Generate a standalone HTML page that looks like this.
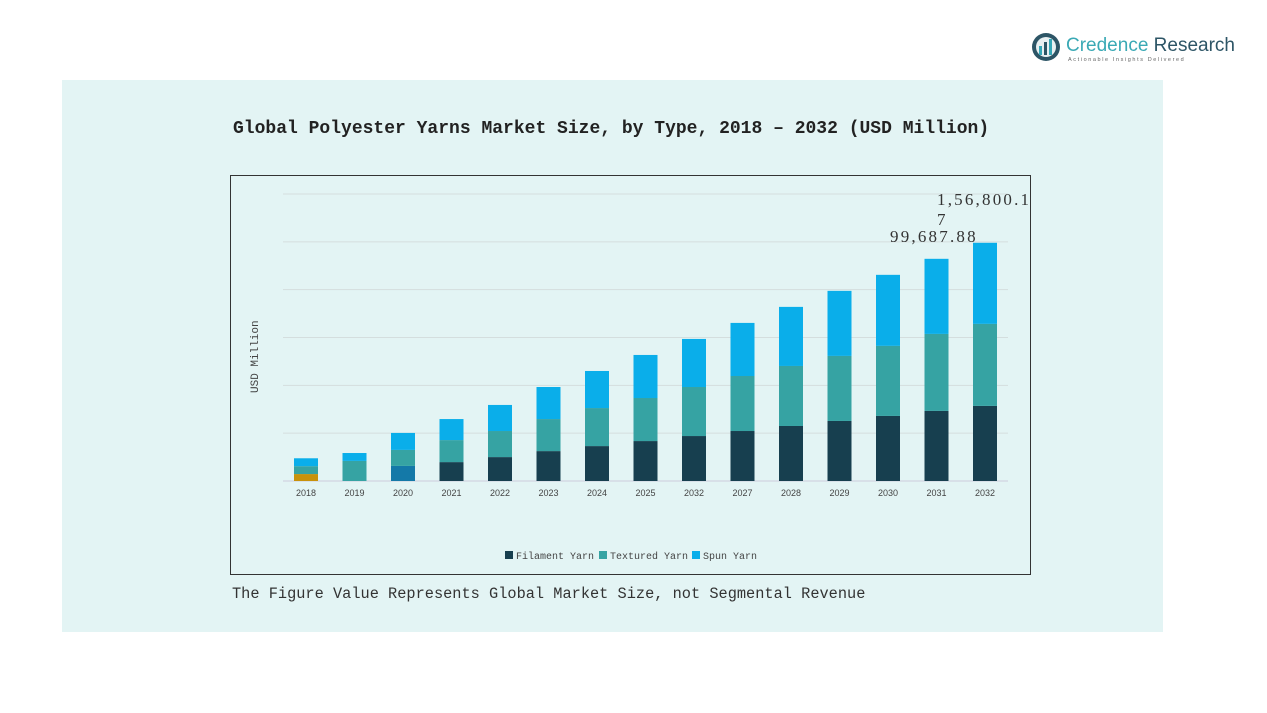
<!DOCTYPE html>
<html><head><meta charset="utf-8"><style>
body{margin:0;width:1267px;height:713px;background:#fff;position:relative;overflow:hidden;font-family:"Liberation Mono","Noto Serif CJK SC",monospace}
#panel{position:absolute;left:62px;top:80px;width:1101px;height:552px;background:#e3f4f4}
#title{position:absolute;left:233px;top:119px;font-size:18px;font-weight:bold;color:#222;white-space:nowrap;font-family:"Liberation Mono","Noto Serif CJK SC",monospace}
#foot{position:absolute;left:232px;top:585px;font-size:15.3px;color:#333;white-space:nowrap}
#logo{position:absolute;left:1030px;top:30px}
</style></head><body>
<div id="panel"></div>
<div id="logo">
<svg width="210" height="36"><circle cx="16" cy="17" r="14" fill="#2d5566"/><circle cx="16" cy="17" r="10" fill="#e8f0f2"/><rect x="9" y="16" width="3" height="9" fill="#35a8b8"/><rect x="14" y="12" width="3" height="13" fill="#2d5566"/><rect x="19" y="9" width="3" height="16" fill="#35a8b8"/>
<text x="36" y="21" font-family="Liberation Sans,sans-serif" font-size="19" fill="#3aa9b5">Credence <tspan fill="#2d5566">Research</tspan></text>
<text x="38" y="31" font-family="Liberation Sans,sans-serif" font-size="5.5" letter-spacing="1.6" fill="#666">Actionable Insights Delivered</text></svg></div>
<div id="title">Global Polyester Yarns Market Size, by Type, 2018 – 2032 (USD Million)</div>
<svg id="chart" width="1267" height="713" style="position:absolute;left:0;top:0"></svg>
<div id="foot">The Figure Value Represents Global Market Size, not Segmental Revenue</div>
<script>
const categories=["2018","2019","2020","2021","2022","2023","2024","2025","2032","2027","2028","2029","2030","2031","2032"];
const filament=[2900,0,6300,7900,10000,12500,14600,16700,18800,20900,23000,25100,27200,29300,31400];
const textured=[3300,8400,6700,9200,10900,13400,15900,18000,20500,23000,25100,27200,29300,32200,34300];
const spun=[3300,3300,7100,8800,10900,13400,15500,18000,20100,22200,24700,27200,29700,31400,33900];
const yTicks=[0,20000,40000,60000,80000,100000,120000];
const annotations=["1,56,800.1","7","99,687.88"];
const svg=document.getElementById('chart');const NS='http://www.w3.org/2000/svg';
function el(t,a){const e=document.createElementNS(NS,t);for(const k in a)e.setAttribute(k,a[k]);svg.appendChild(e);return e;}
const y0=481,yMax=120000,yTop=194;
function y(v){return y0-(v/yMax)*(y0-yTop);}
function x(i){return 306+i*48.5;}
const frame=el('rect',{x:230.5,y:175.5,width:800,height:399,fill:'none',stroke:'#333','stroke-width':1});


yTicks.forEach(t=>{const g=el('line',{x1:283,x2:1008,y1:y(t),y2:y(t),stroke:t===0?'#ccd':'#d4dede','stroke-width':1});

});
const yl=el('text',{x:258,y:393,transform:'rotate(-90 258 393)','font-size':11,fill:'#444','font-family':'Liberation Mono,monospace'});yl.textContent='USD Million';


const cols=['#173f4f','#36a3a3','#0aaeea'];
categories.forEach((c,i)=>{let base=0;[filament,textured,spun].forEach((s,k)=>{const v=s[i];if(v<=0)return;let col=cols[k];
if(k===0&&i===0)col='#c8920a';if(k===0&&i===2)col='#1479a8';
const r=el('rect',{x:x(i)-12,y:y(base+v),width:24,height:y(base)-y(base+v),fill:col});


base+=v;});
const t=el('text',{x:x(i),y:496,'text-anchor':'middle','font-size':9,fill:'#444','font-family':'Liberation Sans,sans-serif'});t.textContent=c;

});
[[937,205,annotations[0]],[937,225,annotations[1]],[890,242,annotations[2]]].forEach(a=>{const t=el('text',{x:a[0],y:a[1],'font-size':17,'letter-spacing':2.2,fill:'#333','font-family':'Liberation Serif,serif'});t.textContent=a[2];

});
const leg=[['Filament Yarn',505],['Textured Yarn',599],['Spun Yarn',692]];
leg.forEach((l,k)=>{const r=el('rect',{x:l[1],y:551,width:8,height:8,fill:cols[k]});


const t=el('text',{x:l[1]+11,y:559,'font-size':10,fill:'#444','font-family':'Liberation Mono,monospace'});t.textContent=l[0];

});
</script>
</body></html>
